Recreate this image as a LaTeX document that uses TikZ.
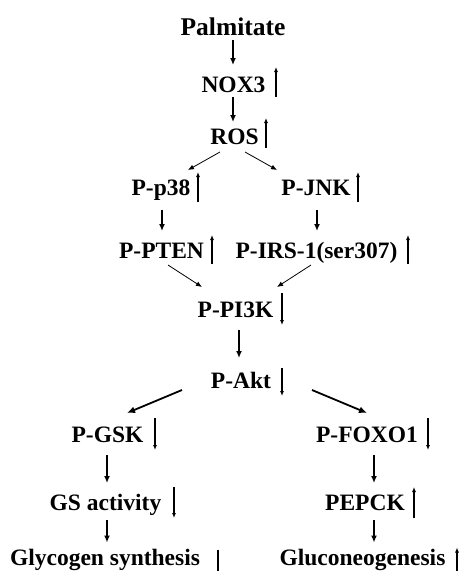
\documentclass[tikz,border=0pt]{standalone}
\usepackage{fontspec}
\setmainfont{Liberation Serif}
\usetikzlibrary{arrows.meta}
\tikzset{
  lbl/.style={anchor=base, inner sep=0pt, font=\fontsize{23.5}{26}\selectfont\bfseries},
  flow/.style={line width=1.6pt, -{Latex[length=7pt,width=6pt]}},
  thin/.style={line width=0.8pt, -{Latex[length=6pt,width=5pt]}},
  thick/.style={line width=1.8pt, -{Latex[length=8pt,width=7pt]}},
  ind/.style={line width=1.2pt, -{Latex[length=5pt,width=4pt]}},
}
\begin{document}
\begin{tikzpicture}[x=1pt, y=-1pt]
\fill[white] (0,0) rectangle (461,571);
\clip (0,0) rectangle (461,571);

% pathway labels (placed on their baselines)
\node[lbl, font=\fontsize{25.5}{28}\selectfont\bfseries] (pal) at (233,35) {Palmitate};
\node[lbl] (nox)   at (233.5,92)  {NOX3};
\node[lbl] (ros)   at (234.5,144) {ROS};
\node[lbl] (p38)   at (161,195)   {P-p38};
\node[lbl] (jnk)   at (316,195)   {P-JNK};
\node[lbl] (pten)  at (161.5,258) {P-PTEN};
\node[lbl] (irs)   at (316.5,258) {P-IRS-1(ser307)};
\node[lbl] (pi3k)  at (235.5,317) {P-PI3K};
\node[lbl] (akt)   at (241,388)   {P-Akt};
\node[lbl] (gsk)   at (107.5,442) {P-GSK};
\node[lbl] (foxo)  at (367,442)   {P-FOXO1};
\node[lbl] (gs)    at (105.5,510) {GS activity};
\node[lbl] (pepck) at (365,510)   {PEPCK};
\node[lbl] (glyc)  at (105,565.5) {Glycogen synthesis};
\node[lbl] (gluco) at (362.5,565.5) {Gluconeogenesis};

% vertical pathway arrows
\draw[flow] ([shift={(0,5)}]pal.base)     -- ([shift={(-0.5,-27)}]nox.base);
\draw[flow] ([shift={(-0.5,5)}]nox.base)  -- ([shift={(-1.5,-22)}]ros.base);
\draw[flow] ([shift={(1,15)}]p38.base)    -- ([shift={(0.5,-27)}]pten.base);
\draw[flow] ([shift={(1,15)}]jnk.base)    -- ([shift={(0.5,-27)}]irs.base);
\draw[flow] ([shift={(3.5,13)}]pi3k.base) -- ([shift={(-2,-30)}]akt.base);
\draw[flow] ([shift={(-0.5,13)}]gsk.base) -- ([shift={(1.5,-27)}]gs.base);
\draw[flow] ([shift={(7,13)}]foxo.base)   -- ([shift={(9,-27)}]pepck.base);
\draw[flow] ([shift={(1.5,10)}]gs.base)   -- ([shift={(2,-23)}]glyc.base);
\draw[flow] ([shift={(9,10)}]pepck.base)  -- ([shift={(11.5,-23)}]gluco.base);

% branching arrows
\draw[thin] ([shift={(-14.5,8)}]ros.base) -- ([shift={(27,-25)}]p38.base);
\draw[thin] ([shift={(10.5,8)}]ros.base)  -- ([shift={(-39,-25)}]jnk.base);
\draw[thin] ([shift={(6.5,7)}]pten.base)  -- ([shift={(-33.5,-30)}]pi3k.base);
\draw[thin] ([shift={(-5.5,7)}]irs.base)  -- ([shift={(41.5,-30)}]pi3k.base);
\draw[thick] ([shift={(-59,2)}]akt.base)  -- ([shift={(19.5,-29)}]gsk.base);
\draw[thick] ([shift={(71,2)}]akt.base)   -- ([shift={(0,-29)}]foxo.base);

% up / down change markers
\draw[ind] ([shift={(42.5,5)}]nox.base)    -- ++(0,-30);
\draw[ind] ([shift={(31.5,4)}]ros.base)    -- ++(0,-30);
\draw[ind] ([shift={(37,7)}]p38.base)      -- ++(0,-30);
\draw[ind] ([shift={(42,7)}]jnk.base)      -- ++(0,-30);
\draw[ind] ([shift={(50.5,6)}]pten.base)   -- ++(0,-29);
\draw[ind] ([shift={(91.5,6)}]irs.base)    -- ++(0,-29);
\draw[ind] ([shift={(46.5,-24)}]pi3k.base) -- ++(0,32);
\draw[ind] ([shift={(41,-20)}]akt.base)    -- ++(0,28);
\draw[ind] ([shift={(47.5,-24)}]gsk.base)  -- ++(0,32);
\draw[ind] ([shift={(61,-24)}]foxo.base)   -- ++(0,32);
\draw[ind] ([shift={(68.5,-23)}]gs.base)   -- ++(0,31);
\draw[ind] ([shift={(49,8)}]pepck.base)    -- ++(0,-31);
\draw[ind] ([shift={(113,-16)}]glyc.base)  -- ++(0,30);
\draw[ind] ([shift={(94.5,12)}]gluco.base) -- ++(0,-30);
\end{tikzpicture}
\end{document}
